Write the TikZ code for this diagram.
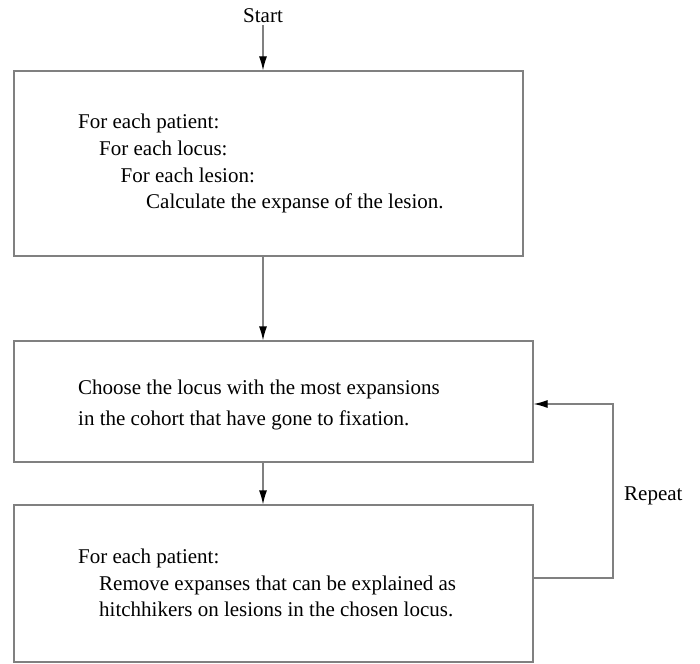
\documentclass[tikz,border=0pt]{standalone}
\usepackage{fontspec}
\setmainfont{Liberation Serif}
\usepackage{xcolor}
\usepackage{tikz}
\usetikzlibrary{arrows.meta, positioning, calc}

\definecolor{linegray}{RGB}{128,128,128}

\tikzset{
  stepbox/.style={draw=linegray, line width=1.2pt, rectangle, inner sep=0pt},
  txt/.style={anchor=base west, inner sep=0pt, font=\fontsize{21}{26}\selectfont},
  flow/.style={draw=linegray, line width=1.2pt, -{Latex[length=14pt,width=8pt,color=black]}}
}

\begin{document}
\begin{tikzpicture}[x=1pt, y=-1pt]
      \useasboundingbox (0,0) rectangle (700,663);

      \node[txt, anchor=base, inner sep=2pt] at (263,23) (start) {Start};

      \node[stepbox, minimum width=509pt, minimum height=185pt] at (268.5,163.5) (init) {};
      \node[stepbox, minimum width=519pt, minimum height=121pt] at (273.5,401.5) (choose) {};
      \node[stepbox, minimum width=519pt, minimum height=157pt] at (273.5,583.5) (remove) {};

      \node[txt] at (78,129) (l1) {For each patient:};
      \node[txt] at (99,155.5) (l2) {For each locus:};
      \node[txt] at (120.5,182) (l3) {For each lesion:};
      \node[txt] at (146,208) (l4) {Calculate the expanse of the lesion.};

      \node[txt] at (78,394) (c1) {Choose the locus with the most expansions};
      \node[txt] at (78,425) (c2) {in the cohort that have gone to fixation.};

      \node[txt] at (78,563) (r1) {For each patient:};
      \node[txt] at (99,590) (r2) {Remove expanses that can be explained as};
      \node[txt] at (99,616) (r3) {hitchhikers on lesions in the chosen locus.};

      \node[txt] at (624,500) (rep) {Repeat};

      \coordinate (loopB) at (613,578);
      \coordinate (loopT) at (613,404);

      \draw[flow] (start) -- (start |- init.north);
      \draw[flow] (start |- init.south) -- (start |- choose.north);
      \draw[flow] (start |- choose.south) -- (start |- remove.north);

      \draw[flow] (remove.east |- loopB) -- (loopB) -- (loopT) -- (choose.east |- loopT);
    \end{tikzpicture}
\end{document}
